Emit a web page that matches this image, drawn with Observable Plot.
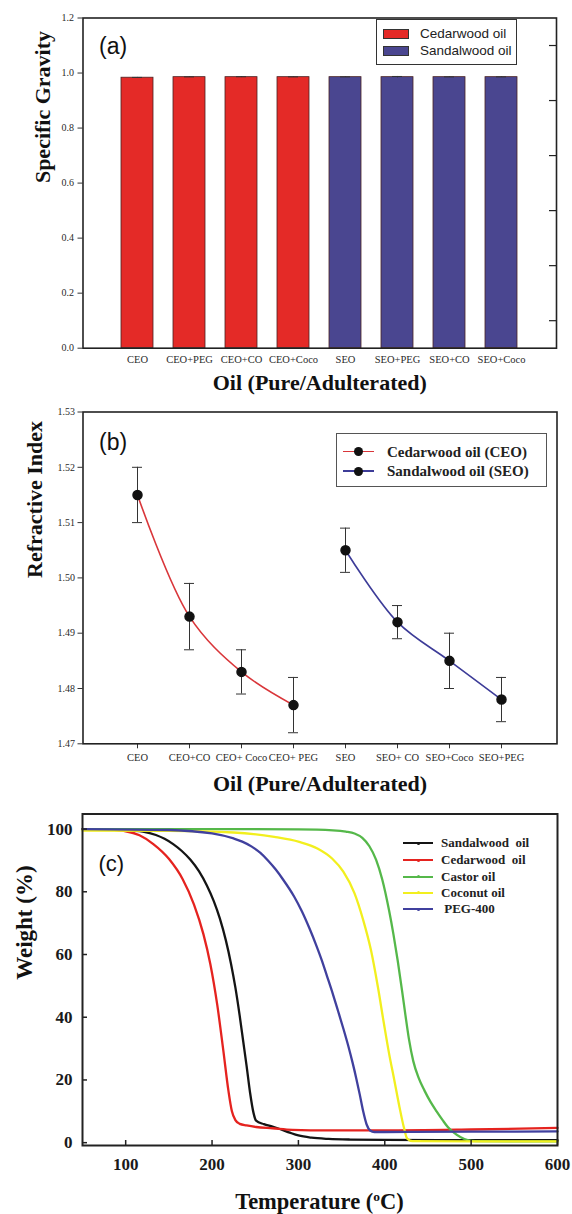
<!DOCTYPE html>
<html>
<head>
<meta charset="utf-8">
<script src="https://cdn.jsdelivr.net/npm/d3@7"></script>
<script src="https://cdn.jsdelivr.net/npm/@observablehq/plot@0.6"></script>
<style>
  html, body { margin: 0; padding: 0; background: #fff; }
  #root { position: relative; width: 572px; height: 1214px; overflow: hidden; background: #fff;
          font-family: "Liberation Serif", "Times New Roman", serif; color: #1a1a1a; }
</style>
</head>
<body>
<div id="root"></div>
<script>
// ---------------- DATA ----------------
// (a) Specific gravity
const sgCategories = ["CEO", "CEO+PEG", "CEO+CO", "CEO+Coco", "SEO", "SEO+PEG", "SEO+CO", "SEO+Coco"];
const sgGroups = ["Cedarwood oil", "Cedarwood oil", "Cedarwood oil", "Cedarwood oil",
                  "Sandalwood oil", "Sandalwood oil", "Sandalwood oil", "Sandalwood oil"];
const sgValues = [0.983, 0.985, 0.985, 0.985, 0.985, 0.985, 0.985, 0.985];
const sgErrors = [0.001, 0.001, 0.0015, 0.001, 0.001, 0.0025, 0.001, 0.001];
const sgTicks = [0, 0.2, 0.4, 0.6, 0.8, 1.0, 1.2];
const sgMinorTicks = [0.1, 0.3, 0.5, 0.7, 0.9, 1.1];
const sgLegend = ["Cedarwood oil", "Sandalwood oil"];
const sgColors = ["#e42a27", "#4a4690"];

// (b) Refractive index
const riCategories = ["CEO", "CEO+CO", "CEO+ Coco", "CEO+ PEG", "SEO", "SEO+ CO", "SEO+Coco", "SEO+PEG"];
const riSeries = ["CEO", "CEO", "CEO", "CEO", "SEO", "SEO", "SEO", "SEO"];
const riValues = [1.515, 1.493, 1.483, 1.477, 1.505, 1.492, 1.485, 1.478];
const riLow    = [1.510, 1.487, 1.479, 1.472, 1.501, 1.489, 1.480, 1.474];
const riHigh   = [1.520, 1.499, 1.487, 1.482, 1.509, 1.495, 1.490, 1.482];
const riTicks = [1.47, 1.48, 1.49, 1.50, 1.51, 1.52, 1.53];
const riLegend = ["Cedarwood oil (CEO)", "Sandalwood oil (SEO)"];
const riColors = ["#d9363a", "#3d3c98"];

// (c) TGA curves
const tSandalwood = [50, 100, 120, 135, 145, 155, 165, 175, 185, 194, 202, 209, 216, 222, 227, 232, 236, 240, 244, 248, 251, 260, 270, 280, 290, 300, 315, 335, 360, 400, 500, 600];
const wSandalwood = [100, 99.7, 99.2, 98.1, 96.9, 95.2, 93, 90.2, 86.5, 82, 77, 71.5, 64.5, 57, 49.5, 40.5, 32.5, 24.5, 16, 9.5, 7, 5.9, 5.1, 4.2, 3.2, 2.3, 1.6, 1.2, 1, 0.9, 0.8, 0.8];
const tCedarwood = [50, 80, 100, 116, 132, 150, 166, 179, 190, 198, 206, 213, 219, 223, 227, 232, 240, 251, 270, 293, 335, 400, 500, 600];
const wCedarwood = [100, 99.8, 99.3, 98, 95.2, 90.5, 84, 76, 66.5, 57, 44, 29.5, 16.5, 10, 7.2, 6, 5.5, 5, 4.6, 4.1, 3.9, 3.9, 4.2, 4.7];
const tCastor = [50, 200, 300, 340, 355, 365, 374, 382, 390, 397, 405, 410, 415, 420, 424, 428, 433, 439, 446, 453, 460, 467, 473, 480, 488, 496, 505, 550, 600];
const wCastor = [100, 100, 99.9, 99.6, 99.2, 98.6, 97.2, 94.6, 90.2, 84, 74, 66.5, 58, 48.5, 40.5, 33, 26, 20.8, 16.6, 13, 10, 7.2, 5, 3.2, 1.7, 0.8, 0.5, 0.4, 0.4];
const tCoconut = [50, 150, 225, 272, 301, 322, 339, 352, 365, 375, 384, 392, 399, 405, 411, 417, 422, 426, 432, 500, 600];
const wCoconut = [99.5, 99.4, 98.9, 97.5, 95.9, 93.8, 90.6, 86.4, 79.5, 71, 61.4, 49.7, 38, 28.4, 20, 11.4, 5, 1.3, 0.5, 0.4, 0.4];
const tPEG = [50, 150, 200, 225, 235, 246, 256, 265, 274, 282, 295, 304, 313, 320, 327, 333, 340, 346, 352, 358, 363, 367, 371, 375, 379, 383, 388, 400, 500, 600];
const wPEG = [100, 99.7, 98.6, 97, 96, 94.4, 92.4, 89.9, 87, 84, 78.5, 73.8, 68.2, 63.4, 58.2, 53.2, 47.3, 41.9, 36.4, 30.6, 25.2, 20.5, 15.4, 10, 5.8, 3.9, 3.4, 3.4, 3.5, 3.6];
const tgaNames = ["Sandalwood  oil", "Cedarwood  oil", "Castor oil", "Coconut oil", " PEG-400"];
const tgaColors = ["#141414", "#e5231f", "#55b84a", "#f2ef1e", "#40409e"];
const tgaXTicks = [100, 200, 300, 400, 500, 600];
const tgaYTicks = [0, 20, 40, 60, 80, 100];

// ---------------- HELPERS ----------------
const root = document.getElementById("root");
const W = 572;
const SERIF = "'Liberation Serif', 'Times New Roman', serif";
const SANS = "'Liberation Sans', Arial, sans-serif";
function place(node, top) {
  node.style.position = "absolute";
  node.style.left = "0px";
  node.style.top = top + "px";
  root.appendChild(node);
}
function addDiv(css, text) {
  const d = document.createElement("div");
  Object.assign(d.style, {position: "absolute"}, css);
  if (text !== undefined) d.textContent = text;
  root.appendChild(d);
  return d;
}
function addLabel(text, x, y, css) {
  return addDiv(Object.assign({left: x + "px", top: (y - 10) + "px", height: "20px", lineHeight: "20px", whiteSpace: "pre"}, css), text);
}
const baseStyle = {fontFamily: SERIF, fontSize: "10px", color: "#2a2a2a", background: "white", overflow: "visible"};

// ---------------- PANEL (a) ----------------
{
  const H = 400, mt = 17.5, mb = 52.3, ml = 82.5, mr = 16;
  const pw = W - ml - mr;
  const data = sgCategories.map((c, i) => ({cat: c, group: sgGroups[i], value: sgValues[i], err: sgErrors[i]}));
  const chart = Plot.plot({
    width: W, height: H, marginTop: mt, marginBottom: mb, marginLeft: ml, marginRight: mr,
    style: baseStyle,
    x: {type: "band", domain: sgCategories, paddingInner: 0.38, paddingOuter: 0.69, axis: null},
    y: {domain: [0, 1.2], axis: null},
    color: {domain: sgLegend, range: sgColors},
    marks: [
      Plot.barY(data, {x: "cat", y: "value", fill: "group", stroke: "#4a2222", strokeWidth: 0.8}),
      Plot.ruleX(data, {x: "cat", y1: d => d.value - d.err, y2: d => d.value + d.err, stroke: "#333", strokeWidth: 1}),
      Plot.tickY(data, {x: "cat", y: d => d.value + d.err, stroke: "#333", strokeWidth: 1, insetLeft: 11, insetRight: 11}),
      Plot.axisY({ticks: sgTicks, tickFormat: d3.format(".1f"), tickSize: 5, tickPadding: 4, fontSize: 10, stroke: "#333", label: null}),
      Plot.ruleY(sgMinorTicks, {y: d => d, insetLeft: pw - 7, stroke: "#222", strokeWidth: 1.2}),
      Plot.axisX({tickSize: 0, tickPadding: 7, fontSize: 10.5, label: null}),
      Plot.frame({stroke: "#222", strokeWidth: 1.6}),
      Plot.text(["Specific Gravity"], {text: d => d, frameAnchor: "left", rotate: -90, dx: -40.5, fontSize: 22, fontWeight: "bold", fontFamily: SERIF, fill: "#111"}),
      Plot.text(["Oil (Pure/Adulterated)"], {text: d => d, frameAnchor: "bottom", dy: 42, fontSize: 22, fontWeight: "bold", fontFamily: SERIF, fill: "#111"}),
      Plot.text(["(a)"], {text: d => d, frameAnchor: "top-left", textAnchor: "start", dx: 16, dy: 20, fontSize: 23, fontFamily: SANS, fill: "#111"})
    ]
  });
  place(chart, 0);
  // legend (a)
  addDiv({left: "376px", top: "19px", width: "141px", height: "46px", border: "1px solid #333", boxSizing: "border-box", background: "#fff"});
  const rows = [33.5, 50.5];
  sgLegend.forEach((name, i) => {
    addDiv({left: "383px", top: (rows[i] - 5) + "px", width: "26px", height: "10px", background: sgColors[i], border: "1px solid #333", boxSizing: "border-box"});
    addLabel(name, 420, rows[i], {fontFamily: SANS, fontSize: "13.5px", color: "#222"});
  });
}

// ---------------- PANEL (b) ----------------
{
  const H = 400, mt = 11.5, mb = 56.7, ml = 82.5, mr = 15.5;
  const data = riCategories.map((c, i) => ({cat: c, series: riSeries[i], value: riValues[i], low: riLow[i], high: riHigh[i]}));
  const chart = Plot.plot({
    width: W, height: H, marginTop: mt, marginBottom: mb, marginLeft: ml, marginRight: mr,
    style: baseStyle,
    x: {type: "band", domain: riCategories, paddingInner: 0.38, paddingOuter: 0.69, axis: null},
    y: {domain: [1.47, 1.53], axis: null},
    color: {domain: ["CEO", "SEO"], range: riColors},
    marks: [
      Plot.ruleX(data, {x: "cat", y1: "low", y2: "high", stroke: "#333", strokeWidth: 1}),
      Plot.tickY(data, {x: "cat", y: "low", stroke: "#333", strokeWidth: 1, insetLeft: 11, insetRight: 11}),
      Plot.tickY(data, {x: "cat", y: "high", stroke: "#333", strokeWidth: 1, insetLeft: 11, insetRight: 11}),
      Plot.line(data, {x: "cat", y: "value", z: "series", stroke: "series", curve: "catmull-rom", strokeWidth: 1.6}),
      Plot.dot(data, {x: "cat", y: "value", r: 4.5, fill: "#111", stroke: "#111"}),
      Plot.axisY({ticks: riTicks, tickFormat: d3.format(".2f"), tickSize: 5, tickPadding: 3, fontSize: 10, stroke: "#333", label: null}),
      Plot.axisX({tickSize: 5, tickPadding: 5, fontSize: 10.5, stroke: "#333", label: null}),
      Plot.frame({stroke: "#222", strokeWidth: 1.6}),
      Plot.text(["Refractive Index"], {text: d => d, frameAnchor: "left", rotate: -90, dx: -48.5, fontSize: 22, fontWeight: "bold", fontFamily: SERIF, fill: "#111"}),
      Plot.text(["Oil (Pure/Adulterated)"], {text: d => d, frameAnchor: "bottom", dy: 47, fontSize: 22, fontWeight: "bold", fontFamily: SERIF, fill: "#111"}),
      Plot.text(["(b)"], {text: d => d, frameAnchor: "top-left", textAnchor: "start", dx: 16, dy: 22, fontSize: 23, fontFamily: SANS, fill: "#111"})
    ]
  });
  place(chart, 400);
  // legend (b)
  addDiv({left: "336px", top: "433px", width: "211px", height: "54px", border: "1.5px solid #555", boxSizing: "border-box", background: "#fff"});
  const rows = [451.5, 471];
  riLegend.forEach((name, i) => {
    addDiv({left: "343px", top: (rows[i] - 0.8) + "px", width: "31px", height: "1.6px", background: riColors[i]});
    addDiv({left: "353.5px", top: (rows[i] - 4.5) + "px", width: "9px", height: "9px", borderRadius: "50%", background: "#111"});
    addLabel(name, 387, rows[i], {fontWeight: "bold", fontSize: "15px", color: "#222"});
  });
}

// ---------------- PANEL (c) ----------------
{
  const H = 414, mt = 13.5, mb = 69, ml = 82, mr = 15;
  const pw = W - ml - mr, ph = H - mt - mb;
  const series = [
    [tgaNames[0], tSandalwood, wSandalwood],
    [tgaNames[1], tCedarwood, wCedarwood],
    [tgaNames[2], tCastor, wCastor],
    [tgaNames[3], tCoconut, wCoconut],
    [tgaNames[4], tPEG, wPEG]
  ];
  const data = series.flatMap(([name, ts, ws]) => ts.map((t, i) => ({name, t, w: ws[i]})));
  const chart = Plot.plot({
    width: W, height: H, marginTop: mt, marginBottom: mb, marginLeft: ml, marginRight: mr,
    style: baseStyle,
    x: {domain: [50, 600], axis: null},
    y: {domain: [-0.9, 104.8], axis: null},
    color: {domain: tgaNames, range: tgaColors},
    marks: [
      Plot.line(data, {x: "t", y: "w", z: "name", stroke: "name", curve: "monotone-x", strokeWidth: 2.3}),
      Plot.ruleX(tgaXTicks, {x: d => d, insetTop: ph - 5, stroke: "#222", strokeWidth: 1.5}),
      Plot.ruleY(tgaYTicks, {y: d => d, insetRight: pw - 5, stroke: "#222", strokeWidth: 1.5}),
      Plot.axisX({ticks: tgaXTicks, tickSize: 0, tickPadding: 12, fontSize: 17, fontWeight: "bold", fill: "#1a1a1a", label: null}),
      Plot.axisY({ticks: tgaYTicks, tickSize: 0, tickPadding: 10, fontSize: 17, fontWeight: "bold", fill: "#1a1a1a", label: null}),
      Plot.frame({stroke: "#222", strokeWidth: 2}),
      Plot.text(["Weight (%)"], {text: d => d, frameAnchor: "left", rotate: -90, dx: -58, fontSize: 23, fontWeight: "bold", fontFamily: SERIF, fill: "#111"}),
      Plot.text(["(c)"], {text: d => d, frameAnchor: "top-left", textAnchor: "start", dx: 16, dy: 41.5, fontSize: 22, fontFamily: SANS, fill: "#111"})
    ]
  });
  place(chart, 800);
  // legend (c)
  const rows = [843.3, 860, 876.7, 892.7, 909.3];
  tgaNames.forEach((name, i) => {
    addDiv({left: "403px", top: (rows[i] - 1) + "px", width: "30px", height: "2px", background: tgaColors[i]});
    addDiv({left: "417px", top: (rows[i] - 1.5) + "px", width: "3px", height: "3px", borderRadius: "50%", background: tgaColors[i]});
    addLabel(name, 441, rows[i], {fontWeight: "bold", fontSize: "13px", color: "#222"});
  });
  // x-axis title with superscript
  const title = addDiv({left: "0px", top: "1188px", width: "639px", height: "28px", lineHeight: "28px", textAlign: "center", fontWeight: "bold", fontSize: "22.5px", color: "#111"});
  title.appendChild(document.createTextNode("Temperature ("));
  const sup = document.createElement("sup");
  sup.textContent = "o";
  sup.style.fontSize = "0.6em";
  sup.style.lineHeight = "0";
  title.appendChild(sup);
  title.appendChild(document.createTextNode("C)"));
}
</script>
</body>
</html>
